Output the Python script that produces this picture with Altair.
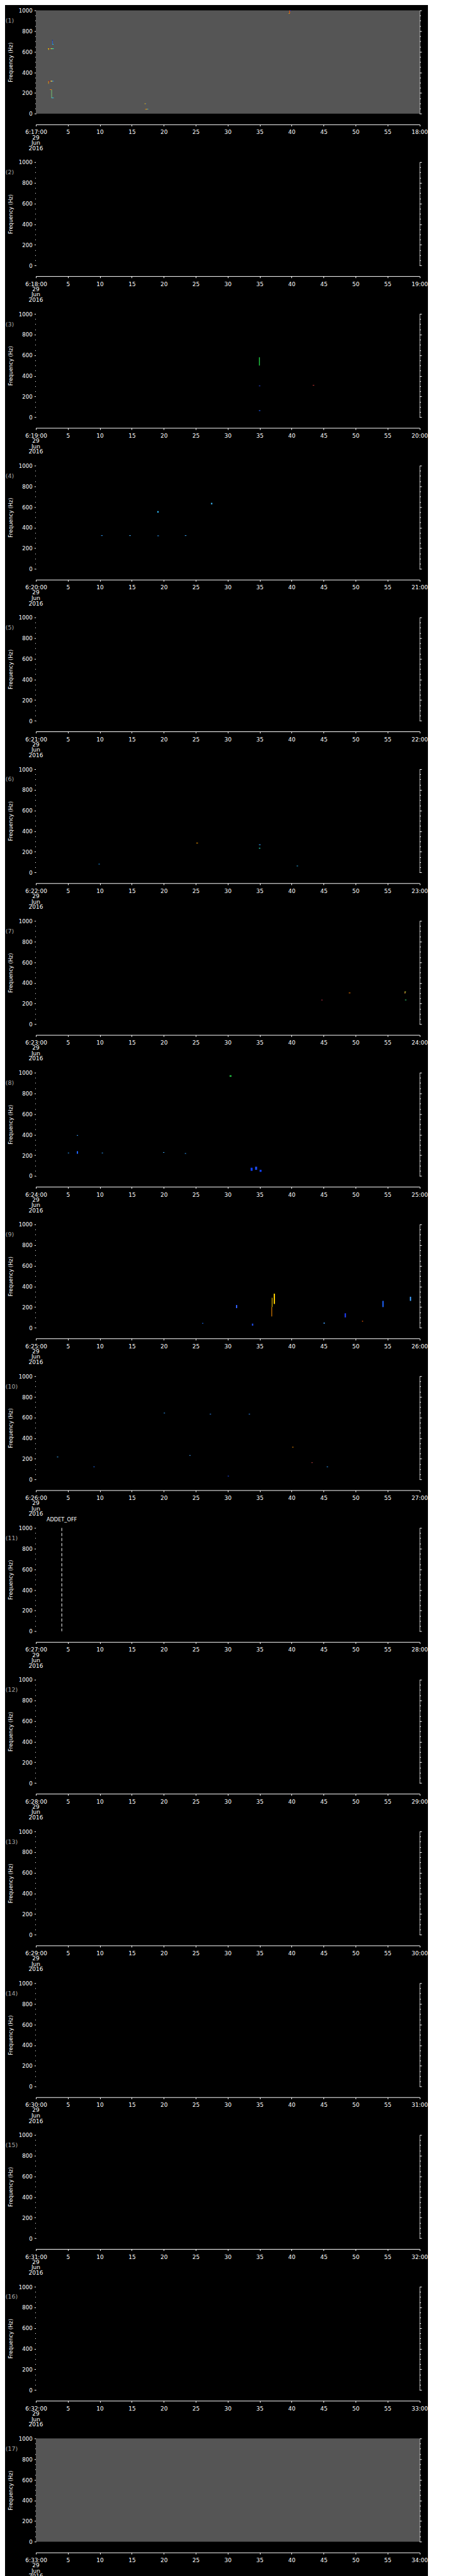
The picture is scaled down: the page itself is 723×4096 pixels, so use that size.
import altair as alt
import pandas as pd

# ---------------- data ----------------
panel_ids = list(range(1, 18))
start_minute = [16 + n for n in panel_ids]          # 6:17:00 ... 6:33:00
gray_panels = [1, 17]                               # panels with grey (no data) fill

# spectrogram features: panel, t0, t1 (s), f0, f1 (Hz), colour
seg_panel = [1] * 23 + [3, 3, 3, 3] + [4] * 6 + [6] * 5 + [7] * 5 + [8] * 10 + [9] * 11 + [10] * 10
seg_t0 = [2.55, 2.60, 1.90, 2.10, 2.30, 2.55, 1.95, 2.00, 2.30, 2.60, 1.94, 2.43, 2.20, 2.45,
          39.65, 39.75, 39.55, 17.00, 17.20, 17.10, 17.30, 17.45, 2.55,
          34.9, 34.9, 43.3, 34.9,
          10.2, 14.6, 19.0, 19.0, 23.3, 27.4,
          9.8, 25.1, 34.9, 34.9, 40.8,
          44.65, 48.95, 57.65, 57.75, 57.70,
          5.0, 6.4, 10.3, 19.9, 23.3, 30.3, 33.6, 34.3, 35.0, 6.4,
          36.85, 36.9, 31.3, 48.3, 51.0, 54.2, 58.5, 33.8, 37.2, 45.0, 26.0,
          20.0, 27.2, 33.3, 3.3, 24.0, 40.1, 43.1, 45.5, 9.0, 30.0]
seg_t1 = [2.63, 2.75, 2.10, 2.30, 2.55, 2.80, 2.05, 2.30, 2.60, 2.80, 2.02, 2.50, 2.45, 2.80,
          39.75, 39.90, 39.65, 17.20, 17.30, 17.30, 17.45, 17.60, 2.63,
          35.05, 35.1, 43.55, 35.1,
          10.45, 14.85, 19.25, 19.2, 23.55, 27.6,
          10.0, 25.35, 35.15, 35.1, 41.0,
          44.85, 49.2, 57.9, 57.95, 57.78,
          5.2, 6.6, 10.5, 20.1, 23.5, 30.6, 33.9, 34.6, 35.3, 6.6,
          36.95, 37.0, 31.5, 48.5, 51.2, 54.4, 58.7, 34.0, 37.4, 45.2, 26.2,
          20.2, 27.4, 33.5, 3.5, 24.2, 40.3, 43.3, 45.7, 9.2, 30.2]
seg_f0 = [672, 668, 626, 626, 626, 626, 618, 312, 312, 312, 289, 152, 230, 150, 970, 995, 967, 94, 94, 40, 41, 41, 705,
          500, 60, 306, 300,
          320, 320, 318, 545, 320, 625,
          78, 282, 265, 230, 60,
          232, 300, 310, 232, 296,
          220, 215, 220, 225, 215, 960, 50, 60, 40, 390,
          110, 200, 190, 100, 60, 200, 260, 20, 230, 40, 40,
          640, 630, 630, 215, 230, 310, 160, 120, 120, 30]
seg_f1 = [705, 674, 632, 632, 632, 632, 624, 318, 318, 318, 315, 233, 236, 155, 1000, 1000, 973, 99, 99, 46, 46, 46, 716,
          580, 68, 312, 306,
          326, 326, 324, 560, 326, 640,
          84, 288, 272, 240, 66,
          237, 306, 316, 238, 312,
          226, 240, 226, 231, 221, 975, 80, 90, 60, 396,
          200, 290, 220, 140, 66, 260, 300, 40, 330, 50, 46,
          646, 636, 636, 221, 236, 316, 166, 126, 126, 36]
seg_color = ["#1e64ff", "#00e4ff", "#ffe600", "#d01010", "#c8ff3c", "#28f0c8",
             "#ffd000", "#c01010", "#ffff60", "#1e90ff", "#ffa000", "#80f080",
             "#ff7800", "#30d8ff", "#ff5a00", "#0028ff", "#ffd000", "#ffd000",
             "#1e64ff", "#ff9000", "#ffe040", "#20c8ff", "#0030c0",
             "#20c040", "#2060ff", "#c03030", "#3050ff",
             "#30a0ff", "#40b0ff", "#30a0ff", "#30c0ff", "#40b0ff", "#40c0ff",
             "#20a0ff", "#ffa000", "#30a0ff", "#20c0a0", "#30c0ff",
             "#ff4060", "#ff8000", "#e0ff40", "#40ff90", "#ffa040",
             "#30a0ff", "#1e64ff", "#30a0ff", "#40b0ff", "#30a0ff", "#20c040", "#1040ff", "#2050ff", "#1040ff", "#40a0ff",
             "#ff9000", "#ffd000", "#3060ff", "#2040ff", "#ff6000", "#1e64ff", "#40a0ff", "#2050ff", "#ffd000", "#40a0ff", "#2070ff",
             "#30a0ff", "#3090ff", "#3090ff", "#40b0ff", "#40a0ff", "#ff9000", "#c04040", "#30a0ff", "#2070ff", "#2050ff"]

# instrument events
event_panel = [11]
event_t = [4.05]
event_label = ["ADDET_OFF"]

freq_ticks = list(range(0, 1001, 50))
time_ticks = list(range(0, 61, 5))
date_lines = "29\nJun\n2016"

# ---------------- style ----------------
W, H = 609.5, 164.3
FONT = "DejaVu Sans"
WHITE = "#ffffff"

segs = pd.DataFrame({"panel": seg_panel, "t0": seg_t0, "t1": seg_t1,
                     "f0": seg_f0, "f1": seg_f1, "color": seg_color})
events = pd.DataFrame({"panel": event_panel, "t": event_t, "label": event_label})

xscale = alt.Scale(domain=[0, 60], nice=False, zero=False)
yscale = alt.Scale(domain=[0, 1000], nice=False, zero=True)


def make_panel(pid, smin):
    start_lbl = f"6:{smin}:00"
    end_lbl = f"{smin + 1}:00"
    x_axis = alt.Axis(
        values=time_ticks, offset=17, orient="bottom", grid=False,
        domainColor=WHITE, tickColor=WHITE, labelColor=WHITE, domainWidth=1,
        tickWidth=1, tickSize=2.6, labelFont=FONT, labelFontSize=9,
        labelPadding=5.5, labelBaseline="top", labelFlush=False,
        labelOverlap=False, title=None,
        labelExpr=(f"datum.value == 0 ? '{start_lbl}' : "
                   f"datum.value == 60 ? '{end_lbl}' : datum.label"),
    )
    y_left = alt.Axis(
        values=freq_ticks, orient="left", grid=False,
        domainColor=WHITE, tickColor=WHITE, labelColor=WHITE, domainWidth=1,
        tickWidth=1,
        tickSize={"condition": {"test": "datum.value % 200 === 0", "value": 2.6}, "value": 1.5},
        labelExpr="datum.value % 200 === 0 ? datum.label : ''",
        labelFont=FONT, labelFontSize=8.6, labelPadding=3.2, labelOverlap=False,
        labelFlush=False, format="d",
        title="Frequency (Hz)", titleColor=WHITE, titleFont=FONT,
        titleFontSize=8.4, titleFontWeight="normal", titleX=-40.5, titleY=H / 2,
        titleAngle=-90, titleBaseline="middle", titleAlign="center",
    )
    y_right = alt.Axis(
        values=freq_ticks, orient="right", grid=False, labels=False,
        domainColor=WHITE, tickColor=WHITE, domainWidth=1, tickWidth=1,
        tickSize={"condition": {"test": "datum.value % 200 === 0", "value": 3.3}, "value": 1.9},
        title=None,
    )
    X = lambda f: alt.X(f, scale=xscale, axis=x_axis)
    fill = "#555555" if pid in gray_panels else "#000000"
    frame_df = pd.DataFrame({"t0": [0], "t1": [60], "f0": [0], "f1": [1000], "dl": [date_lines]})
    frame = alt.Chart(frame_df).mark_rect(fill=fill, strokeWidth=0).encode(
        x=X("t0:Q"), x2="t1:Q",
        y=alt.Y("f0:Q", scale=yscale, axis=y_left), y2="f1:Q",
    )
    frame_r = alt.Chart(frame_df).mark_rect(opacity=0).encode(
        x=X("t0:Q"), x2="t1:Q",
        y=alt.Y("f0:Q", scale=yscale, axis=y_right), y2="f1:Q",
    )
    date_txt = alt.Chart(frame_df).mark_text(
        color=WHITE, font=FONT, fontSize=9, align="center", baseline="middle",
        lineBreak="\n", lineHeight=8.6,
    ).encode(x=X("t0:Q"), y=alt.value(H + 17 + 20.7), text="dl:N")
    layers = [frame, frame_r, date_txt]
    psegs = segs[segs.panel == pid]
    if len(psegs):
        layers.append(alt.Chart(psegs).mark_rect(strokeWidth=0).encode(
            x=X("t0:Q"), x2="t1:Q",
            y=alt.Y("f0:Q", scale=yscale, axis=None), y2="f1:Q",
            fill=alt.Fill("color:N", scale=None),
        ))
    pev = events[events.panel == pid]
    if len(pev):
        layers.append(alt.Chart(pev).mark_rule(color=WHITE, strokeWidth=1, strokeDash=[5, 3]).encode(
            x=X("t:Q"), y=alt.value(0), y2=alt.value(H),
        ))
        layers.append(alt.Chart(pev).mark_text(color=WHITE, font=FONT, fontSize=8.2,
                                              align="center", baseline="middle").encode(
            x=X("t:Q"), y=alt.value(-12.5), text="label:N",
        ))
    lbl_df = pd.DataFrame({"lbl": [f"({pid})"]})
    layers.append(alt.Chart(lbl_df).mark_text(color="#a8a8a8", font=FONT, fontSize=9.5,
                                             align="left", baseline="middle").encode(
        x=alt.value(-48.2), y=alt.value(16.4), text="lbl:N"))
    return alt.layer(*layers).resolve_axis(y="independent").properties(width=W, height=H)


panels = [make_panel(p, m) for p, m in zip(panel_ids, start_minute)]

chart = alt.vconcat(*panels, spacing=76.3, bounds="flush").properties(
    background="#000000",
    padding={"left": 0, "top": 4.5, "right": 0, "bottom": 0},
).configure_view(stroke=None)

chart.save("out.html", embed_options={"renderer": "svg", "actions": False})
